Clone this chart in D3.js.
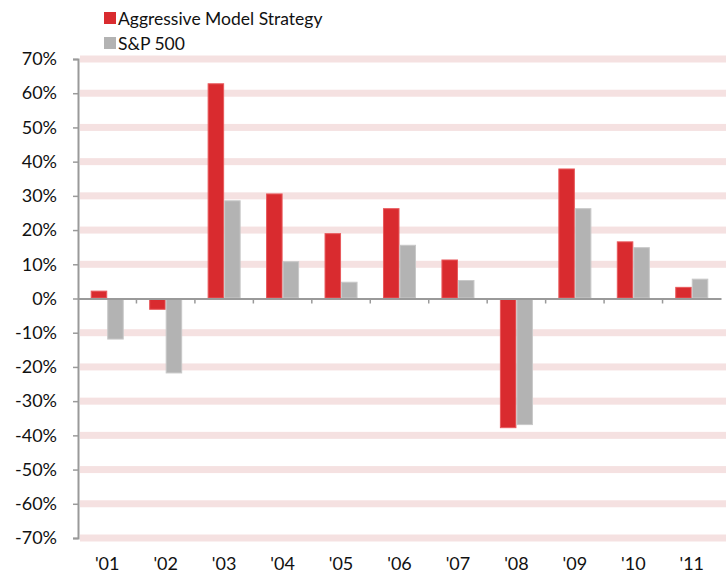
<!DOCTYPE html>
<html>
<head>
<meta charset="utf-8">
<script src="https://cdn.jsdelivr.net/npm/d3@7"></script>
<style>
  body { margin: 0; background: #fff; }
  text { font-family: "Lato", "Open Sans", sans-serif; fill: #111; }
</style>
</head>
<body>
<div id="chart"></div>
<script>
const years = ["'01", "'02", "'03", "'04", "'05", "'06", "'07", "'08", "'09", "'10", "'11"];
const seriesNames = ["Aggressive Model Strategy", "S&P 500"];
const aggressive = [2.3, -3.3, 62.9, 30.7, 19.1, 26.4, 11.4, -37.9, 38.0, 16.7, 3.4];
const sp500 = [-12.0, -21.9, 28.7, 10.9, 4.9, 15.7, 5.4, -37.0, 26.4, 15.0, 5.8];
const yTicks = [70, 60, 50, 40, 30, 20, 10, 0, -10, -20, -30, -40, -50, -60, -70];

const width = 726, height = 576;
const margin = { top: 59, right: 5, bottom: 38, left: 78 };
const colors = ["#d92b2f", "#b3b3b3"];
const strokes = ["#e8595c", "#c8c8c8"];

const svg = d3.select("#chart")
  .append("svg")
  .attr("width", width)
  .attr("height", height);

const y = d3.scaleLinear()
  .domain([-70, 70])
  .range([height - margin.bottom, margin.top]);

const x0 = d3.scaleBand()
  .domain(years)
  .range([margin.left, width - margin.right])
  .paddingInner(0.435)
  .paddingOuter(0.2175);

const x1 = d3.scaleBand()
  .domain([0, 1])
  .range([0, x0.bandwidth()]);

// pink gridline bands
svg.append("g")
  .selectAll("rect")
  .data(yTicks.filter(d => d !== 0))
  .join("rect")
  .attr("x", margin.left + 2)
  .attr("width", width - margin.left - 2)
  .attr("y", d => y(d) - 3.5)
  .attr("height", 7)
  .attr("fill", "#f5e1e1");

// bars
const rows = years.map((yr, i) => ({ yr, vals: [aggressive[i], sp500[i]] }));
const grp = svg.append("g")
  .selectAll("g")
  .data(rows)
  .join("g")
  .attr("transform", d => `translate(${x0(d.yr)},0)`);

grp.selectAll("rect")
  .data(d => d.vals.map((v, k) => ({ v, k })))
  .join("rect")
  .attr("x", d => x1(d.k) + 0.5)
  .attr("width", x1.bandwidth() - 1)
  .attr("y", d => Math.min(y(d.v), y(0)) + 0.5)
  .attr("height", d => Math.max(Math.abs(y(d.v) - y(0)) - 1, 0))
  .attr("fill", d => colors[d.k])
  .attr("stroke", d => strokes[d.k])
  .attr("stroke-width", 1);

// y axis
const yAxis = svg.append("g")
  .attr("transform", `translate(${margin.left},0)`)
  .call(d3.axisLeft(y).tickValues(yTicks).tickSize(5).tickPadding(16)
    .tickFormat(d => d + "%"));
yAxis.select(".domain").attr("stroke", "#9a9a9a").attr("stroke-width", 2);
yAxis.selectAll(".tick line").attr("stroke", "#9a9a9a").attr("stroke-width", 1.5);
yAxis.selectAll(".tick text")
  .style("font-family", "Lato, sans-serif")
  .style("font-size", "18px")
  .attr("fill", "#111");

// x axis at zero
const xAxis = svg.append("g")
  .attr("transform", `translate(0,${y(0)})`)
  .call(d3.axisBottom(x0).tickSize(0).tickFormat(""));
xAxis.select(".domain").attr("stroke", "#9a9a9a").attr("stroke-width", 2);
xAxis.selectAll(".tick").remove();

// category boundary ticks
const step = x0.step();
svg.append("g")
  .selectAll("line")
  .data(years.slice(1))
  .join("line")
  .attr("x1", d => x0(d) - x0.paddingInner() * step / 2)
  .attr("x2", d => x0(d) - x0.paddingInner() * step / 2)
  .attr("y1", y(0))
  .attr("y2", y(0) + 5)
  .attr("stroke", "#9a9a9a")
  .attr("stroke-width", 1.5);

// x labels at bottom
svg.append("g")
  .selectAll("text")
  .data(years)
  .join("text")
  .attr("x", d => x0(d) + x0.bandwidth() / 2)
  .attr("y", height - 6)
  .attr("text-anchor", "middle")
  .style("font-size", "18px")
  .text(d => d);

// legend
const legend = svg.append("g")
  .selectAll("g")
  .data(seriesNames)
  .join("g")
  .attr("transform", (d, i) => `translate(104,${12 + i * 25})`);
legend.append("rect")
  .attr("width", 12)
  .attr("height", 12)
  .attr("fill", (d, i) => colors[i]);
legend.append("text")
  .attr("x", 14)
  .attr("y", 13)
  .style("font-size", "17.5px")
  .text(d => d);
</script>
</body>
</html>
